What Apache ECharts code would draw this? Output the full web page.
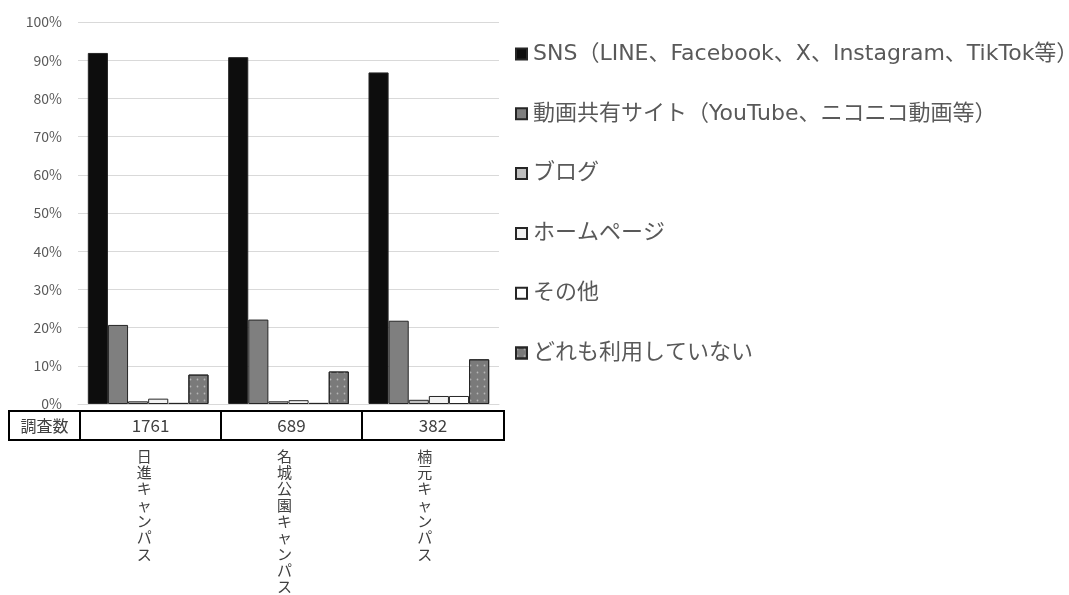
<!DOCTYPE html>
<html><head><meta charset="utf-8">
<script src="https://cdn.jsdelivr.net/npm/echarts@6/dist/echarts.min.js"></script>
<style>html,body{margin:0;padding:0;background:#fff}#c{width:1069px;height:595px}</style>
</head><body><div id="c"></div>
<script>
const categories = ['日進キャンパス', '名城公園キャンパス', '楠元キャンパス'];
const sampleSizes = [1761, 689, 382];
const tableHeader = '調査数';
const seriesNames = ['SNS（LINE、Facebook、X、Instagram、TikTok等）', '動画共有サイト（YouTube、ニコニコ動画等）', 'ブログ', 'ホームページ', 'その他', 'どれも利用していない'];
const snsValues = [91.9, 90.8, 86.8];
const videoValues = [20.7, 22.1, 21.8];
const blogValues = [0.7, 0.7, 1.1];
const homepageValues = [1.4, 1.0, 2.1];
const otherValues = [0.3, 0.3, 2.1];
const noneValues = [7.7, 8.5, 11.7];
const yTicks = [0, 10, 20, 30, 40, 50, 60, 70, 80, 90, 100];

const allValues = [snsValues, videoValues, blogValues, homepageValues, otherValues, noneValues];
const fills = ['#0d0d0d', '#7f7f7f', '#bfbfbf', '#f2f2f2', '#ffffff', '#7a7a7a'];
const FONT = '"Noto Sans CJK JP", "Noto Sans", sans-serif';
const LEGEND_FONT = '"DejaVu Sans", "Noto Sans CJK JP", sans-serif';

const chart = echarts.init(document.getElementById('c'), null, {renderer: 'canvas'});

const series = seriesNames.map((n, i) => ({
  name: n, type: 'bar', data: allValues[i],
  barGap: '0%', barCategoryGap: '14%',
  itemStyle: Object.assign({color: fills[i], borderColor: '#262626', borderWidth: 1},
    i === 5 ? {decal: {symbol: 'circle', symbolSize: 0.6, color: 'rgba(255,255,255,0.45)', dashArrayX: [3, 4], dashArrayY: [3, 4]}} : {})
}));

const tableTop = 411, tableBottom = 440;
const colX = [9, 80, 221, 362, 504];
const graphics = [];
graphics.push({type: 'line', shape: {x1: colX[0], y1: tableTop, x2: colX[4], y2: tableTop}, style: {stroke: '#000', lineWidth: 2}});
graphics.push({type: 'line', shape: {x1: colX[0], y1: tableBottom, x2: colX[4], y2: tableBottom}, style: {stroke: '#000', lineWidth: 2}});
colX.forEach(x => graphics.push({type: 'line', shape: {x1: x, y1: tableTop - 1, x2: x, y2: tableBottom + 1}, style: {stroke: '#000', lineWidth: 2}}));
graphics.push({type: 'text', x: (colX[0] + colX[1]) / 2, y: (tableTop + tableBottom) / 2,
  style: {text: tableHeader, fill: '#404040', font: '16px ' + FONT, textAlign: 'center', textVerticalAlign: 'middle'}});
sampleSizes.forEach((v, i) => graphics.push({type: 'text', x: (colX[i + 1] + colX[i + 2]) / 2, y: (tableTop + tableBottom) / 2,
  style: {text: String(v), fill: '#404040', font: '17px ' + FONT, textAlign: 'center', textVerticalAlign: 'middle'}}));

chart.setOption({
  animation: false,
  textStyle: {fontFamily: FONT},
  grid: {left: 78, right: 570, top: 22, bottom: 191, containLabel: false},
  legend: {
    orient: 'vertical', left: 515, top: 43, padding: 0, icon: 'rect', itemWidth: 11, itemHeight: 11,
    itemGap: 37.8, selectedMode: false,
    textStyle: {fontSize: 22, lineHeight: 22, color: '#595959', fontFamily: LEGEND_FONT, padding: [0, 0, 0, 1]}
  },
  xAxis: {
    type: 'category', data: categories,
    axisLine: {lineStyle: {color: '#d9d9d9', width: 1}},
    axisTick: {show: false},
    axisLabel: {
      margin: 44, color: '#404040', fontSize: 15, lineHeight: 16.3, verticalAlign: 'top',
      padding: [0, 8, 0, 0],
      formatter: v => v.split('').join('\n')
    }
  },
  yAxis: {
    type: 'value', min: 0, max: 100, interval: 10,
    axisLine: {show: false}, axisTick: {show: false},
    splitLine: {lineStyle: {color: '#d9d9d9', width: 1}},
    axisLabel: {margin: 16, color: '#595959', fontSize: 14, formatter: v => yTicks.includes(v) ? v + '%' : ''}
  },
  series: series,
  graphic: graphics
});
</script></body></html>
